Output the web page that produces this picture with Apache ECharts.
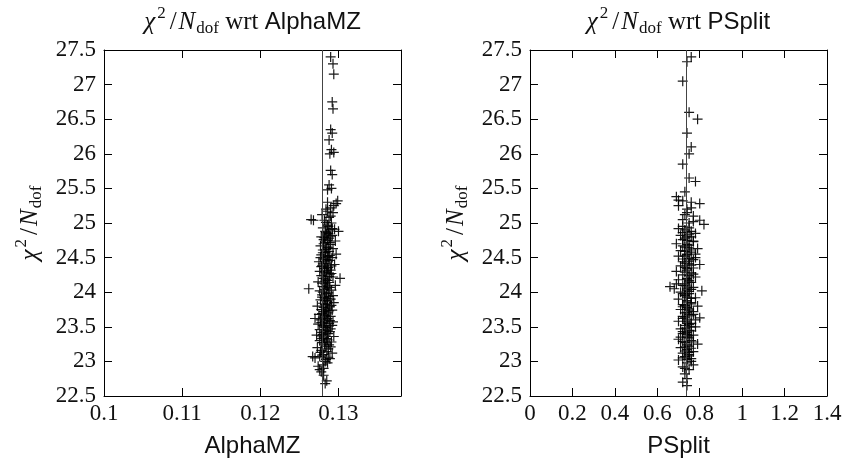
<!DOCTYPE html>
<html>
<head>
<meta charset="utf-8">
<script src="https://cdn.jsdelivr.net/npm/echarts@6/dist/echarts.min.js"></script>
<style>html,body{margin:0;padding:0;background:#fff}#c{width:857px;height:463px}</style>
</head>
<body>
<div id="c"></div>
<script>
// ---- data ----
const alphaRef = 0.1279;
const psplitRef = 0.735;
const yTicksMin = 22.5, yTicksMax = 27.5, yTickStep = 0.5;
const alphaTicks = { min: 0.1, max: 0.138, step: 0.01 };
const psplitTicks = { min: 0, max: 1.4, step: 0.2 };

const alphaPoints = [
 [0.1283,22.68],[0.1285,22.72],[0.1281,22.80],[0.1278,22.85],[0.1276,22.88],
 [0.1274,22.93],[0.1280,22.95],[0.1286,22.98],[0.1283,23.00],[0.1270,23.05],[0.1276,23.07],[0.1289,23.04],[0.1281,23.10],[0.1292,23.12],[0.1285,23.14],[0.1278,23.16],
 [0.1273,23.20],[0.1283,23.22],[0.1288,23.24],[0.1279,23.27],[0.1291,23.28],[0.1276,23.30],[0.1285,23.33],[0.1281,23.35],[0.1294,23.36],[0.1272,23.38],[0.1287,23.40],[0.1279,23.42],[0.1283,23.44],
 [0.1276,23.46],[0.1290,23.47],[0.1285,23.50],[0.1280,23.52],[0.1274,23.54],[0.1288,23.55],[0.1293,23.57],[0.1282,23.58],[0.1277,23.60],[0.1286,23.62],[0.1280,23.64],[0.1290,23.65],[0.1283,23.67],[0.1275,23.68],[0.1287,23.70],
 [0.1281,23.72],[0.1292,23.74],[0.1278,23.75],[0.1285,23.77],[0.1289,23.79],[0.1273,23.80],[0.1283,23.82],[0.1280,23.84],[0.1294,23.85],[0.1286,23.87],[0.1277,23.89],[0.1290,23.90],[0.1282,23.92],[0.1288,23.94],[0.1279,23.96],[0.1284,23.98],
 [0.1262,24.05],[0.1276,24.02],[0.1291,24.03],[0.1285,24.06],[0.1280,24.08],[0.1296,24.10],[0.1283,24.12],[0.1288,24.14],[0.1274,24.15],[0.1286,24.17],[0.1302,24.20],[0.1281,24.20],[0.1293,24.22],[0.1278,24.24],[0.1289,24.26],[0.1284,24.28],[0.1276,24.30],
 [0.1290,24.32],[0.1282,24.34],[0.1287,24.36],[0.1279,24.38],[0.1295,24.40],[0.1284,24.42],[0.1275,24.44],[0.1289,24.46],[0.1281,24.48],[0.1292,24.50],[0.1286,24.52],[0.1278,24.54],[0.1297,24.55],[0.1283,24.57],[0.1288,24.59],
 [0.1280,24.61],[0.1293,24.63],[0.1285,24.65],[0.1277,24.67],[0.1290,24.69],[0.1283,24.72],[0.1296,24.74],[0.1281,24.76],[0.1288,24.78],[0.1278,24.80],[0.1292,24.82],[0.1285,24.84],[0.1300,24.88],[0.1283,24.88],[0.1289,24.90],[0.1295,24.91],[0.1280,24.93],
 [0.1265,25.05],[0.1286,24.97],[0.1291,25.00],[0.1282,25.04],[0.1288,25.08],[0.1279,25.12],[0.1293,25.15],[0.1284,25.20],[0.1290,25.22],[0.1297,25.28],[0.1299,25.32],[0.1286,25.30],
 [0.1286,25.48],[0.1291,25.50],[0.1288,25.55],[0.1292,25.70],[0.1290,25.76],[0.1289,26.00],[0.1294,26.02],[0.1291,26.06],[0.1288,26.20],[0.1292,26.30],[0.1290,26.35],[0.1293,26.65],[0.1292,26.75],[0.1294,27.15],[0.1293,27.30],[0.1290,27.40],
 [0.1284,23.03],[0.1279,23.09],[0.1287,23.18],[0.1282,23.25],[0.1286,23.31],[0.1280,23.39],[0.1289,23.43],[0.1283,23.49],[0.1278,23.56],[0.1285,23.61],[0.1282,23.66],[0.1288,23.73],[0.1281,23.78],[0.1286,23.83],[0.1283,23.88],[0.1279,23.93],[0.1287,23.99],[0.1282,24.04],[0.1286,24.09],[0.1279,24.13],[0.1284,24.18],[0.1288,24.23],[0.1282,24.29],[0.1286,24.35],[0.1280,24.41],[0.1285,24.47],[0.1289,24.53],[0.1283,24.58],[0.1287,24.64],[0.1281,24.70],[0.1286,24.75],[0.1290,24.81],[0.1284,24.86],[0.1287,24.95],[0.1267,23.07],[0.1270,23.62],[0.1268,25.04],[0.1292,23.52],[0.1277,24.50],[0.1291,24.38],[0.1279,23.33],[0.1293,23.95],
 [0.1281,22.90],[0.1287,23.06],[0.1277,23.13],[0.1290,23.21],[0.1284,23.28],[0.1278,23.37],[0.1286,23.45],[0.1281,23.51],[0.1289,23.59],[0.1279,23.69],[0.1284,23.74],[0.1291,23.81],[0.1285,23.91],[0.1280,24.00],[0.1289,24.07],[0.1283,24.16],[0.1291,24.27],[0.1285,24.31],[0.1278,24.37],[0.1283,24.45],[0.1287,24.51],[0.1280,24.57],[0.1284,24.62],[0.1289,24.72],[0.1282,24.79],[0.1287,24.85],[0.1292,24.92],[0.1284,25.01],[0.1290,25.10],[0.1286,25.17],[0.1294,25.25]
];

const psplitPoints = [
 [0.76,27.40],[0.74,27.33],[0.72,27.05],[0.75,26.60],[0.79,26.50],[0.74,26.30],[0.76,26.10],[0.75,26.00],[0.72,25.85],[0.75,25.65],[0.78,25.60],[0.73,25.45],[0.69,25.38],[0.72,25.32],[0.76,25.30],[0.80,25.28],[0.70,25.25],[0.74,25.20],
 [0.74,25.15],[0.77,25.10],[0.72,25.05],[0.82,24.98],[0.75,25.00],
 [0.70,24.92],[0.73,24.90],[0.76,24.88],[0.78,24.85],[0.71,24.82],[0.74,24.80],[0.72,24.76],[0.77,24.74],[0.69,24.70],[0.75,24.68],[0.73,24.65],[0.79,24.63],[0.71,24.60],
 [0.76,24.58],[0.74,24.55],[0.70,24.52],[0.78,24.50],[0.72,24.48],[0.75,24.45],[0.73,24.42],[0.80,24.40],[0.71,24.38],[0.77,24.35],[0.74,24.32],[0.69,24.30],
 [0.76,24.28],[0.72,24.25],[0.78,24.22],[0.74,24.20],[0.70,24.18],[0.75,24.15],[0.73,24.12],[0.66,24.08],[0.68,24.05],[0.77,24.07],[0.81,24.02],[0.74,24.03],[0.71,24.00],
 [0.75,23.98],[0.73,23.95],[0.78,23.92],[0.70,23.90],[0.74,23.88],[0.76,23.85],[0.72,23.82],[0.79,23.80],[0.74,23.78],[0.71,23.75],[0.77,23.72],[0.73,23.70],
 [0.75,23.68],[0.72,23.65],[0.80,23.63],[0.74,23.60],[0.70,23.58],[0.76,23.55],[0.73,23.52],[0.78,23.50],[0.71,23.47],[0.75,23.45],[0.74,23.42],[0.72,23.40],
 [0.77,23.38],[0.74,23.35],[0.70,23.32],[0.76,23.30],[0.73,23.27],[0.79,23.25],[0.75,23.22],[0.71,23.20],[0.74,23.17],[0.77,23.14],[0.72,23.12],[0.75,23.10],
 [0.73,23.07],[0.76,23.04],[0.70,23.02],[0.74,22.98],[0.77,22.95],[0.72,22.92],[0.75,22.88],[0.73,22.82],[0.74,22.75],[0.72,22.70],[0.74,22.65],
 [0.74,23.03],[0.75,23.08],[0.73,23.15],[0.76,23.19],[0.74,23.24],[0.72,23.29],[0.75,23.34],[0.74,23.39],[0.76,23.44],[0.73,23.48],[0.75,23.53],[0.74,23.57],[0.72,23.62],[0.76,23.66],[0.74,23.71],[0.75,23.76],[0.73,23.81],[0.74,23.86],[0.76,23.91],[0.73,23.96],[0.75,24.01],[0.74,24.06],[0.72,24.10],[0.76,24.14],[0.74,24.19],[0.75,24.24],[0.73,24.29],[0.74,24.34],[0.76,24.39],[0.72,24.44],[0.75,24.49],[0.74,24.54],[0.73,24.59],[0.75,24.64],[0.74,24.69],[0.77,24.73],[0.73,24.78],[0.75,24.83],[0.74,24.87],[0.72,24.95],[0.69,24.12],[0.70,25.33],[0.80,25.04],[0.78,23.60],[0.78,24.55],[0.71,23.35],
 [0.73,22.90],[0.76,23.00],[0.72,23.05],[0.75,23.13],[0.73,23.21],[0.77,23.28],[0.75,23.37],[0.72,23.43],[0.76,23.50],[0.74,23.55],[0.73,23.64],[0.77,23.68],[0.75,23.74],[0.72,23.79],[0.76,23.83],[0.74,23.93],[0.72,23.98],[0.76,24.04],[0.73,24.09],[0.75,24.17],[0.77,24.26],[0.73,24.36],[0.75,24.41],[0.77,24.47],[0.73,24.52],[0.76,24.61],[0.72,24.67],[0.74,24.75],[0.76,24.80],[0.72,24.86],[0.75,24.93],[0.77,25.02],[0.73,25.12],[0.76,25.22]
];

// ---- chart ----
const SERIF = 'Liberation Serif';
const SANS = 'Liberation Sans';
const rich = {
  g: { fontFamily: SERIF, fontStyle: 'italic', fontSize: 25, color: '#111' },
  s: { fontFamily: SERIF, fontSize: 25, color: '#111' },
  sl: { fontFamily: SERIF, fontSize: 25, color: '#111', padding: [0, 2, 0, 3] },
  sup: { fontFamily: SERIF, fontSize: 17, color: '#111', padding: [0, 1, 18, 2] },
  sub: { fontFamily: SERIF, fontSize: 17, color: '#111', padding: [12, 0, 0, 1] },
  sans: { fontFamily: SANS, fontSize: 24, color: '#111' }
};
const chiText = '{g|χ}{sup|2}{sl|/}{g|N}{sub|dof}';
const plus = 'path://M0,4.4H10V5.6H0Z M4.4,0H5.6V10H4.4Z';

function xAxes(grid, ticks, name) {
  const common = {
    gridIndex: grid, type: 'value', min: ticks.min, max: ticks.max, interval: ticks.step,
    axisLine: { show: true, onZero: false, lineStyle: { color: '#000', width: 1 } },
    axisTick: { show: true, inside: true, length: 8, lineStyle: { color: '#000', width: 1 } },
    splitLine: { show: false }
  };
  return [
    Object.assign({}, common, {
      position: 'bottom',
      axisLabel: { fontFamily: SERIF, fontSize: 23, color: '#111', margin: 6, showMaxLabel: ticks.max === 1.4 },
      name: name, nameLocation: 'middle', nameGap: 38,
      nameTextStyle: { fontFamily: SANS, fontSize: 24, color: '#111' }
    }),
    Object.assign({}, common, {
      position: 'top',
      axisLabel: { show: false },
      name: chiText + '{s| wrt }{sans|' + name + '}', nameLocation: 'middle', nameGap: 10,
      nameTextStyle: { rich: rich }
    })
  ];
}
function yAxes(grid) {
  const common = {
    gridIndex: grid, type: 'value', min: yTicksMin, max: yTicksMax, interval: yTickStep,
    axisLine: { show: true, onZero: false, lineStyle: { color: '#000', width: 1 } },
    axisTick: { show: true, inside: true, length: 8, lineStyle: { color: '#000', width: 1 } },
    splitLine: { show: false }
  };
  return [
    Object.assign({}, common, {
      position: 'left',
      axisLabel: { fontFamily: SERIF, fontSize: 23, color: '#111', margin: 8 },
      name: chiText, nameLocation: 'middle', nameGap: 56, nameRotate: 90,
      nameTextStyle: { rich: rich }
    }),
    Object.assign({}, common, { position: 'right', axisLabel: { show: false } })
  ];
}

function scatter(xi, yi, pts, ref) {
  return {
    type: 'scatter', xAxisIndex: xi, yAxisIndex: yi, data: pts,
    symbol: plus, symbolSize: 10,
    itemStyle: { color: '#000', opacity: 0.9 },
    silent: true,
    markLine: {
      silent: true, symbol: 'none', animation: false, precision: 6,
      label: { show: false },
      lineStyle: { color: '#444', width: 1, type: 'solid' },
      data: [{ xAxis: ref }]
    }
  };
}

const chart = echarts.init(document.getElementById('c'), null, { renderer: 'canvas' });
chart.setOption({
  animation: false,
  backgroundColor: '#fff',
  grid: [
    { left: 104, right: 456, top: 50, bottom: 63 },
    { left: 530, right: 30, top: 50, bottom: 63 }
  ],
  xAxis: xAxes(0, alphaTicks, 'AlphaMZ').concat(xAxes(1, psplitTicks, 'PSplit')),
  yAxis: yAxes(0).concat(yAxes(1)),
  series: [
    scatter(0, 0, alphaPoints, alphaRef),
    scatter(2, 2, psplitPoints, psplitRef)
  ]
});
</script>
</body>
</html>
